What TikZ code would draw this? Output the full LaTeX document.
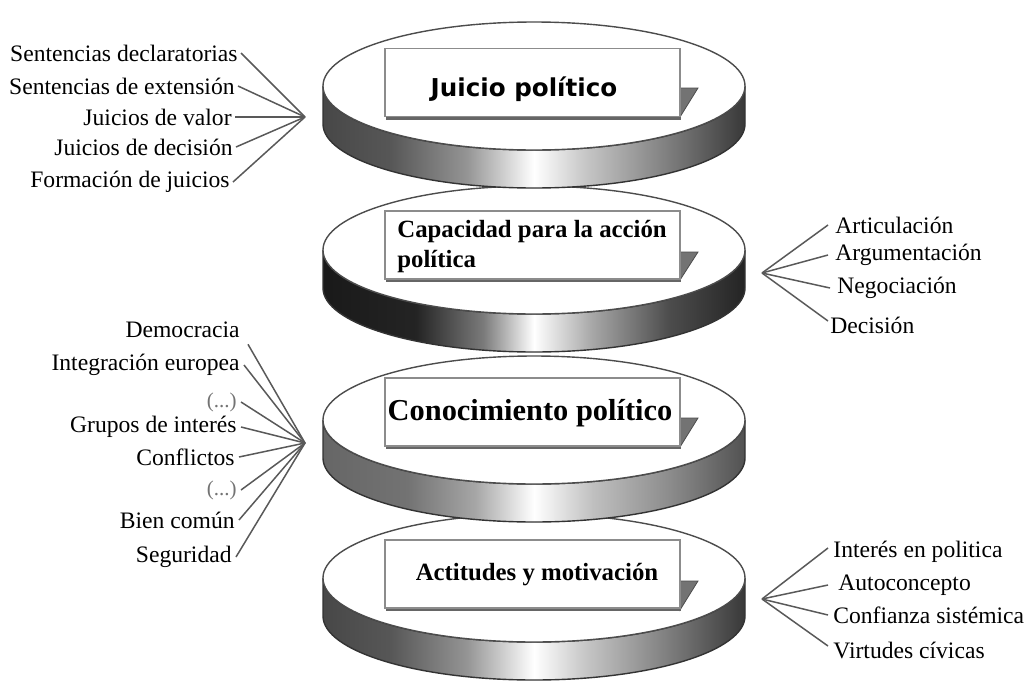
\documentclass[tikz,border=0pt]{standalone}
\usepackage{fontspec}
\setmainfont{Liberation Serif}
\newfontfamily\djv{DejaVu Sans}
\usetikzlibrary{shadows}
\pgfdeclarehorizontalshading{rimA}{100bp}{color(0bp)=(black!72); color(25bp)=(black!72); color(33bp)=(black!66); color(42bp)=(black!42); color(50bp)=(white); color(56bp)=(black!22); color(65bp)=(black!48); color(75bp)=(black!78); color(100bp)=(black!78)}
\pgfdeclarehorizontalshading{rimB}{100bp}{color(0bp)=(black!90); color(25bp)=(black!90); color(36bp)=(black!86); color(44bp)=(black!52); color(50bp)=(white); color(57bp)=(black!35); color(66bp)=(black!70); color(75bp)=(black!86); color(100bp)=(black!86)}
\pgfdeclarehorizontalshading{rimC}{100bp}{color(0bp)=(black!60); color(25bp)=(black!60); color(35bp)=(black!55); color(43bp)=(black!35); color(50bp)=(white); color(57bp)=(black!25); color(66bp)=(black!45); color(75bp)=(black!68); color(100bp)=(black!68)}
\newcommand\mydisc[3]{%
  \shadedraw[shading=#3, draw=black!80, line width=0.7pt]
    (#1-211,#2) -- ++(0,38)
    arc[start angle=180, end angle=360, x radius=105.5pt, y radius=32pt]
    -- ++(0,-38)
    arc[start angle=0, end angle=-180, x radius=105.5pt, y radius=32pt] -- cycle;
  \draw[fill=white, draw=black!70, line width=0.7pt] (#1,#2) ellipse[x radius=105.5pt, y radius=32pt];
}
\tikzset{
  lvlbox/.style={draw=black!45, fill=white, line width=0.6pt, minimum width=147.5pt, minimum height=34pt, inner sep=0pt,
    drop shadow={shadow xshift=0.4pt, shadow yshift=-1.5pt, fill=black!60, opacity=1}},
  tabshape/.style={fill=black!55, draw=black!70, line width=0.4pt},
  lefttxt/.style={anchor=east, inner sep=1pt, font=\fontsize{11.8}{14}\selectfont},
  righttxt/.style={anchor=west, inner sep=1pt, font=\fontsize{11.8}{14}\selectfont},
  dots/.style={lefttxt, text=black!55, font=\fontsize{10.5}{12}\selectfont},
  spoke/.style={draw=black!65, line width=0.75pt},
  boxtxt/.style={inner sep=0pt, font=\fontsize{12.4}{15}\selectfont\bfseries}
}
\begin{document}
\begin{tikzpicture}[x=0.5pt, y=-0.5pt]
\useasboundingbox (0,0) rectangle (1029,681);

% ---- disc 4
\mydisc{534}{578}{rimA}
\fill[tabshape] (680,581) -- ++(18,0) -- (680,610) -- cycle;
\node[lvlbox] (b4) at (532.5,574) {};
\node[boxtxt] (t4) at (537,575) {Actitudes y motivación};

% ---- disc 3
\mydisc{534}{420}{rimC}
\fill[tabshape] (680,418) -- ++(18,0) -- (680,447) -- cycle;
\node[lvlbox] (b3) at (532.5,412) {};
\node[boxtxt, font=\fontsize{15.2}{18}\selectfont\bfseries] (t3) at (530,413) {Conocimiento político};

% ---- disc 2
\mydisc{534}{250}{rimB}
\fill[tabshape] (680,252) -- ++(18,0) -- (680,280) -- cycle;
\node[lvlbox] (b2) at (532.5,245) {};
\node[boxtxt, align=left, anchor=west] (t2) at (397,247) {Capacidad para la acción\\política};

% ---- disc 1
\mydisc{534}{86}{rimA}
\fill[tabshape] (680,88) -- ++(18,0) -- (680,117) -- cycle;
\node[lvlbox] (b1) at (532.5,82.5) {};
\node[inner sep=0pt, font=\djv\fontsize{12.3}{15}\selectfont\bfseries] (t1) at (524,89) {Juicio político};

% ---- left group 1
\coordinate (h1) at (305,117);
\node[lefttxt] (sd) at (240,53) {Sentencias declaratorias};
\node[lefttxt] (se) at (237,86) {Sentencias de extensión};
\node[lefttxt] (jv) at (234,117) {Juicios de valor};
\node[lefttxt] (jd) at (235,147) {Juicios de decisión};
\node[lefttxt] (fj) at (232,182) {Formación de juicios};
\foreach \n in {sd,se,jv,jd,fj} \draw[spoke] ([xshift=0.5pt]\n.east) -- (h1);

% ---- right group 1
\coordinate (h2) at (762,273);
\node[righttxt] (ar) at (833,225) {Articulación};
\node[righttxt] (ag) at (833,255) {Argumentación};
\node[righttxt] (ne) at (835,288) {Negociación};
\node[righttxt] (de) at (828,325) {Decisión};
\foreach \n in {ar,ag,ne} \draw[spoke] (h2) -- ([xshift=-2.5pt]\n.west);
\draw[spoke] (h2) -- ([yshift=2pt]de.west);

% ---- left group 2
\coordinate (h3) at (305,443);
\node[lefttxt] (dm) at (242,330) {Democracia};
\node[lefttxt] (ie) at (242,365) {Integración europea};
\node[dots] (d1) at (239,402) {(...)};
\node[lefttxt] (gi) at (239,427) {Grupos de interés};
\node[lefttxt] (cf) at (237,457) {Conflictos};
\node[dots] (d2) at (239,490) {(...)};
\node[lefttxt] (bc) at (237,520) {Bien común};
\node[lefttxt] (sg) at (234,557) {Seguridad};
\draw[spoke] ([xshift=3pt,yshift=-2pt]dm.south east) -- (h3);
\foreach \n in {ie,d1,gi,cf,d2,bc,sg} \draw[spoke] ([xshift=1pt]\n.east) -- (h3);

% ---- right group 2
\coordinate (h4) at (762,599);
\node[righttxt] (ip) at (831,552) {Interés en politica};
\node[righttxt] (ac) at (836,585) {Autoconcepto};
\node[righttxt] (cs) at (831,615) {Confianza sistémica};
\node[righttxt] (vc) at (831,650) {Virtudes cívicas};
\draw[spoke] (h4) -- ([xshift=-1.5pt,yshift=2pt]ip.west);
\draw[spoke] (h4) -- ([xshift=-4pt]ac.west);
\draw[spoke] (h4) -- ([xshift=-1.5pt]cs.west);
\draw[spoke] (h4) -- ([xshift=-1.5pt,yshift=2pt]vc.west);
\end{tikzpicture}
\end{document}
